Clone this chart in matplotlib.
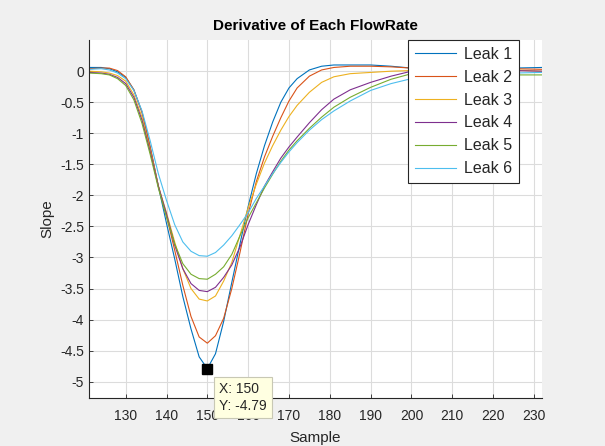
import matplotlib
matplotlib.use('Agg')
import matplotlib.pyplot as plt

# sample index
sample = [121, 124, 126, 128, 130, 132, 134, 136, 138, 140, 142, 144, 146, 148, 150,
          152, 154, 156, 158, 160, 162, 164, 166, 168, 170, 172, 175, 178, 181,
          185, 190, 195, 200, 205, 210, 215, 220, 225, 232]

leak1 = [0.06, 0.06, 0.04, -0.01, -0.1, -0.3, -0.66, -1.22, -1.85, -2.45, -3.02, -3.63, -4.15, -4.6, -4.79,
         -4.55, -4.03, -3.4, -2.78, -2.18, -1.65, -1.2, -0.82, -0.5, -0.27, -0.12, 0.02, 0.08, 0.1,
         0.1, 0.1, 0.08, 0.05, 0.03, 0.02, 0.03, 0.04, 0.05, 0.06]
leak2 = [0.04, 0.05, 0.05, 0.01, -0.09, -0.3, -0.66, -1.22, -1.85, -2.33, -2.88, -3.45, -3.95, -4.28, -4.38,
         -4.26, -3.98, -3.5, -2.92, -2.3, -1.78, -1.38, -1.05, -0.75, -0.48, -0.27, -0.08, 0.02, 0.06,
         0.08, 0.08, 0.07, 0.05, 0.04, 0.03, 0.02, 0.03, 0.04, 0.03]
leak3 = [0.0, -0.01, -0.03, -0.07, -0.16, -0.38, -0.74, -1.28, -1.85, -2.28, -2.75, -3.18, -3.5, -3.67, -3.70,
         -3.62, -3.38, -3.08, -2.64, -2.2, -1.82, -1.48, -1.2, -0.95, -0.73, -0.55, -0.34, -0.18, -0.09,
         -0.04, -0.02, 0.0, 0.01, 0.02, 0.02, 0.02, 0.01, 0.02, 0.0]
leak4 = [-0.02, -0.03, -0.05, -0.1, -0.2, -0.42, -0.79, -1.3, -1.85, -2.3, -2.8, -3.18, -3.42, -3.53, -3.55,
         -3.48, -3.32, -3.12, -2.83, -2.47, -2.15, -1.85, -1.62, -1.4, -1.22, -1.06, -0.83, -0.62, -0.45,
         -0.3, -0.18, -0.08, 0.0, 0.01, 0.01, 0.0, 0.0, 0.01, 0.0]
leak5 = [-0.03, -0.04, -0.06, -0.12, -0.23, -0.46, -0.84, -1.34, -1.88, -2.35, -2.78, -3.1, -3.27, -3.34, -3.35,
         -3.27, -3.15, -2.95, -2.65, -2.36, -2.12, -1.88, -1.66, -1.45, -1.27, -1.12, -0.92, -0.74, -0.58,
         -0.42, -0.26, -0.13, -0.04, -0.03, -0.04, -0.05, -0.05, -0.06, -0.06]
leak6 = [0.03, 0.04, 0.02, -0.03, -0.12, -0.31, -0.64, -1.12, -1.65, -2.08, -2.47, -2.75, -2.9, -2.97, -2.98,
         -2.92, -2.8, -2.65, -2.47, -2.28, -2.05, -1.85, -1.65, -1.47, -1.3, -1.15, -0.95, -0.78, -0.64,
         -0.48, -0.31, -0.2, -0.12, -0.08, -0.06, -0.05, -0.04, -0.03, -0.02]

series = [leak1, leak2, leak3, leak4, leak5, leak6]
names = ['Leak 1', 'Leak 2', 'Leak 3', 'Leak 4', 'Leak 5', 'Leak 6']
colors = ['#0072BD', '#D95319', '#EDB120', '#7E2F8E', '#77AC30', '#4DBEEE']

x_ticks = [130, 140, 150, 160, 170, 180, 190, 200, 210, 220, 230]
y_ticks = [0, -0.5, -1, -1.5, -2, -2.5, -3, -3.5, -4, -4.5, -5]
y_tick_labels = ['0', '-0.5', '-1', '-1.5', '-2', '-2.5', '-3', '-3.5', '-4', '-4.5', '-5']

tip_x, tip_y = 150, -4.79

plt.rcParams['font.family'] = ['Liberation Sans', 'DejaVu Sans']
plt.rcParams['axes.unicode_minus'] = False

fig = plt.figure(figsize=(6.05, 4.46), dpi=100, facecolor='#F0F0F0')
ax = fig.add_axes([0.147, 0.108, 0.749, 0.802])
ax.set_facecolor('white')

for vals, name, c in zip(series, names, colors):
    ax.plot(sample, vals, color=c, linewidth=0.8, label=name)

ax.set_xlim(121, 232)
ax.set_ylim(-5.26, 0.5)
ax.set_xticks(x_ticks)
ax.set_yticks(y_ticks)
ax.set_yticklabels(y_tick_labels)
ax.grid(True, color='#DCDCDC', linewidth=0.8)
ax.set_axisbelow(True)

for side in ['top', 'right']:
    ax.spines[side].set_visible(False)
for side in ['left', 'bottom']:
    ax.spines[side].set_color('#262626')
    ax.spines[side].set_linewidth(0.8)
ax.tick_params(direction='in', length=3, colors='#262626', labelsize=10, width=0.6)
ax.tick_params(axis='x', pad=8)

ax.set_title('Derivative of Each FlowRate', fontsize=11, fontweight='bold', color='#000000', pad=7)
ax.set_xlabel('Sample', fontsize=11, color='#262626', labelpad=6)
ax.set_ylabel('Slope', fontsize=11, color='#262626', labelpad=4)

leg = ax.legend(loc='upper right', bbox_to_anchor=(0.949, 1.0), fontsize=11.5,
                fancybox=False, framealpha=1, edgecolor='#262626', handlelength=2.6,
                borderaxespad=0, labelspacing=0.5, handletextpad=0.5, borderpad=0.4)
leg.get_frame().set_linewidth(0.8)
for t in leg.get_texts():
    t.set_color('#262626')

# data tip
ax.plot([tip_x], [tip_y], marker='s', markersize=7, color='black', zorder=6, clip_on=False)
ax.annotate('X: %d\nY: %.2f' % (tip_x, tip_y), xy=(tip_x, tip_y), xytext=(12, -13),
            textcoords='offset pixels', ha='left', va='top', fontsize=10, color='#262626',
            linespacing=1.3, annotation_clip=False, zorder=7,
            bbox=dict(boxstyle='square,pad=0.35', facecolor='#FFFFE1', edgecolor='#C8C8B4', linewidth=0.8))

plt.savefig('out.png', dpi=100, facecolor=fig.get_facecolor())
